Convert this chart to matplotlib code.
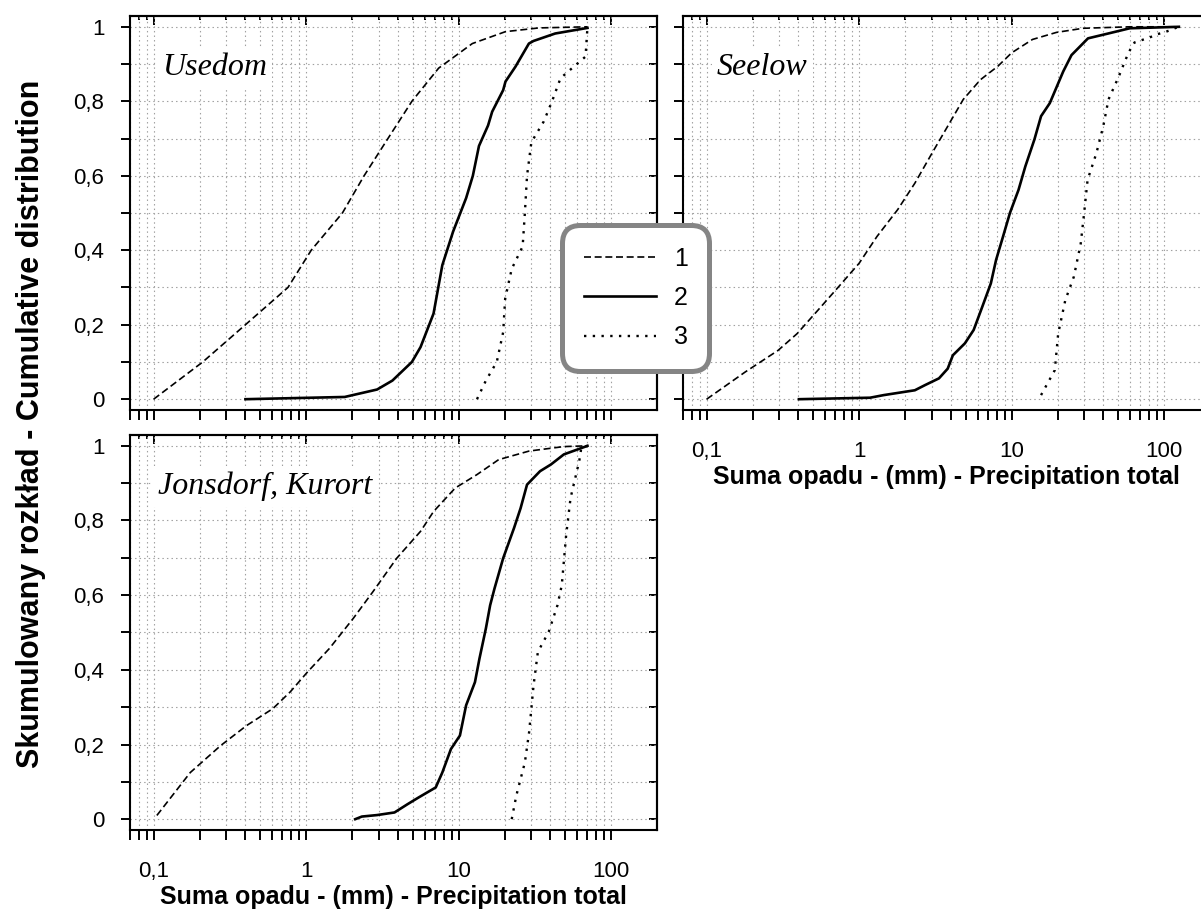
import matplotlib
matplotlib.use("Agg")
import matplotlib.pyplot as plt
from matplotlib.ticker import FixedLocator, NullFormatter

# ---- data: cumulative distribution of precipitation totals (mm) ----
series_labels = ["1", "2", "3"]
stations = ["Usedom", "Seelow", "Jonsdorf, Kurort"]

# Usedom
usedom_1_x = [0.1, 0.21, 0.40, 0.76, 1.08, 1.73, 2.4, 3.44, 4.94, 7.4, 12.3, 20.3, 33.6, 70]
usedom_1_y = [0.0, 0.1, 0.2, 0.3, 0.4, 0.5, 0.6, 0.7, 0.8, 0.889, 0.955, 0.987, 0.997, 1.0]
usedom_2_x = [0.4, 1.79, 2.92, 3.68, 4.94, 5.63, 6.85, 7.82, 9.2, 11.2, 12.4, 13.6, 15.6,
              16.6, 19.6, 20.3, 23.6, 28.9, 31.0, 43, 70]
usedom_2_y = [0.0, 0.006, 0.026, 0.05, 0.1, 0.14, 0.23, 0.36, 0.45, 0.54, 0.6, 0.68, 0.735,
              0.772, 0.83, 0.853, 0.893, 0.955, 0.962, 0.982, 0.997]
usedom_3_x = [13.2, 15.1, 17.8, 19.6, 20.2, 22.3, 26.3, 27.2, 28.1, 30, 36.2, 41, 46.6, 55.5, 68, 70]
usedom_3_y = [0.0, 0.05, 0.1, 0.18, 0.27, 0.35, 0.41, 0.5, 0.6, 0.69, 0.746, 0.8, 0.862, 0.889, 0.92, 1.0]

# Seelow
seelow_1_x = [0.1, 0.179, 0.294, 0.392, 0.537, 0.734, 1.0, 1.31, 1.79, 2.32, 3.01, 3.81, 4.82,
              6.25, 8.12, 10, 13.7, 19.7, 29.4, 59.5, 125]
seelow_1_y = [0.0, 0.073, 0.131, 0.176, 0.239, 0.302, 0.365, 0.437, 0.509, 0.58, 0.661, 0.733,
              0.805, 0.858, 0.894, 0.93, 0.966, 0.985, 0.996, 1.0, 1.0]
seelow_2_x = [0.403, 1.18, 1.45, 2.32, 2.71, 3.34, 3.81, 4.12, 4.94, 5.64, 6.42, 7.31, 7.91,
              8.79, 9.75, 11.1, 12.3, 14.1, 15.6, 17.8, 21.8, 24.7, 31.7, 43, 59.5, 125]
seelow_2_y = [0.0, 0.004, 0.011, 0.024, 0.038, 0.056, 0.082, 0.118, 0.15, 0.186, 0.248, 0.311,
              0.374, 0.437, 0.5, 0.562, 0.625, 0.697, 0.76, 0.795, 0.88, 0.924, 0.969, 0.982,
              0.996, 1.0]
seelow_3_x = [15.6, 19.2, 20.2, 22.5, 25.6, 28.4, 29.9, 31.5, 36, 39.9, 43.2, 50.5, 54.7, 57,
              60, 64, 71, 80, 90, 100, 110, 124]
seelow_3_y = [0.011, 0.078, 0.176, 0.266, 0.329, 0.418, 0.5, 0.589, 0.661, 0.733, 0.805, 0.867,
              0.902, 0.92, 0.939, 0.958, 0.964, 0.971, 0.98, 0.985, 0.991, 1.0]

# Jonsdorf, Kurort
jonsdorf_1_x = [0.105, 0.174, 0.275, 0.408, 0.605, 0.787, 1.02, 1.42, 2.04, 2.74, 3.93, 5.63,
                6.85, 9.5, 13.2, 18.3, 29, 49, 70]
jonsdorf_1_y = [0.01, 0.125, 0.197, 0.251, 0.296, 0.341, 0.394, 0.457, 0.538, 0.609, 0.699,
                0.771, 0.824, 0.887, 0.923, 0.963, 0.986, 0.998, 1.0]
jonsdorf_2_x = [2.1, 2.32, 2.92, 3.8, 4.62, 5.46, 7.08, 7.82, 8.91, 10.2, 11.2, 12.8, 13.7,
                15.1, 16.1, 17.2, 19.6, 23.1, 25.5, 28.1, 34.2, 40.3, 49, 60, 70]
jonsdorf_2_y = [0.0, 0.007, 0.011, 0.018, 0.04, 0.058, 0.085, 0.125, 0.188, 0.224, 0.305, 0.367,
                0.43, 0.511, 0.573, 0.618, 0.699, 0.78, 0.833, 0.896, 0.932, 0.95, 0.977, 0.99, 1.0]
jonsdorf_3_x = [22.3, 23.9, 27.2, 29, 31, 33.1, 39, 44.5, 47.5, 50.7, 54.2, 61.8, 63.8, 70]
jonsdorf_3_y = [0.0, 0.063, 0.152, 0.233, 0.358, 0.448, 0.502, 0.573, 0.627, 0.76, 0.86, 0.959,
                0.995, 1.0]

x_major = [0.1, 1, 10, 100]
x_major_labels = ["0,1", "1", "10", "100"]
x_minor = [m * d for d in (0.01, 0.1, 1, 10) for m in range(2, 10) if 0.065 < m * d < 100]
y_major = [0, 0.2, 0.4, 0.6, 0.8, 1.0]
y_major_labels = ["0", "0,2", "0,4", "0,6", "0,8", "1"]
y_minor = [0.1, 0.3, 0.5, 0.7, 0.9]

xlabel = "Suma opadu - (mm) - Precipitation total"
ylabel = "Skumulowany rozkład - Cumulative distribution"

# ---- styling ----
plt.rcParams["font.family"] = ["Liberation Sans", "DejaVu Sans"]
styles = [
    dict(color="black", lw=1.2, linestyle=(0, (4.2, 2.2))),
    dict(color="black", lw=1.9, linestyle="-"),
    dict(color="black", lw=1.7, linestyle=(0, (1.0, 2.7))),
]
GRID = dict(color="#a0a0a0", linestyle=(0, (1.3, 2.8)), linewidth=0.8)

W, H = 1201, 910
fig = plt.figure(figsize=(W / 100, H / 100), dpi=100)


def box(l, t, r, b):
    return [l / W, 1 - b / H, (r - l) / W, (b - t) / H]


ax_u = fig.add_axes(box(130, 16, 657, 410))
ax_s = fig.add_axes(box(683, 16, 1210, 410))
ax_j = fig.add_axes(box(130, 435, 657, 830))

panels = [
    (ax_u, stations[0], [(usedom_1_x, usedom_1_y), (usedom_2_x, usedom_2_y), (usedom_3_x, usedom_3_y)],
     True, False, 0.060),
    (ax_s, stations[1], [(seelow_1_x, seelow_1_y), (seelow_2_x, seelow_2_y), (seelow_3_x, seelow_3_y)],
     False, True, 0.0645),
    (ax_j, stations[2], [(jonsdorf_1_x, jonsdorf_1_y), (jonsdorf_2_x, jonsdorf_2_y),
                         (jonsdorf_3_x, jonsdorf_3_y)],
     True, True, 0.054),
]

handles = None
for ax, name, curves, ylabels_on, xlabels_on, tx in panels:
    ax.set_xscale("log")
    ax.set_xlim(0.07, 200)
    ax.set_ylim(-0.029, 1.029)
    ax.set_axisbelow(True)
    hs = []
    for (xs, ys), st in zip(curves, styles):
        (ln,) = ax.plot(xs, ys, **st, zorder=3)
        hs.append(ln)
    if handles is None:
        handles = hs

    ax.xaxis.set_major_locator(FixedLocator(x_major))
    ax.xaxis.set_minor_locator(FixedLocator(x_minor))
    ax.xaxis.set_minor_formatter(NullFormatter())
    ax.yaxis.set_major_locator(FixedLocator(y_major))
    ax.yaxis.set_minor_locator(FixedLocator(y_minor))
    ax.yaxis.set_minor_formatter(NullFormatter())
    if xlabels_on:
        ax.set_xticklabels(x_major_labels)
        ax.set_xlabel(xlabel, fontsize=18, fontweight="bold", labelpad=2)
    else:
        ax.xaxis.set_major_formatter(NullFormatter())
    if ylabels_on:
        ax.set_yticklabels(y_major_labels)
    else:
        ax.yaxis.set_major_formatter(NullFormatter())

    ax.tick_params(axis="x", which="both", direction="out", length=7.2, width=1.4,
                   top=False, labelsize=16, pad=15)
    ax.tick_params(axis="y", which="both", direction="out", length=6.5, width=1.4,
                   right=False, labelsize=16, pad=12)
    ax.grid(True, which="both", axis="both", **GRID)
    for sp in ax.spines.values():
        sp.set_linewidth(1.5)

    top = ax.secondary_xaxis("top")
    top.xaxis.set_major_locator(FixedLocator(x_major))
    top.xaxis.set_minor_locator(FixedLocator(x_minor))
    top.xaxis.set_major_formatter(NullFormatter())
    top.xaxis.set_minor_formatter(NullFormatter())
    top.tick_params(which="major", direction="in", length=6.5, width=1.4)
    top.tick_params(which="minor", direction="in", length=3.0, width=1.4)
    top.spines["top"].set_linewidth(1.5)

    right = ax.secondary_yaxis("right")
    right.yaxis.set_major_locator(FixedLocator(y_major))
    right.yaxis.set_minor_locator(FixedLocator(y_minor))
    right.yaxis.set_major_formatter(NullFormatter())
    right.yaxis.set_minor_formatter(NullFormatter())
    right.tick_params(which="both", direction="in", length=6, width=1.4)
    right.spines["right"].set_linewidth(1.5)

    ax.text(tx, 0.85, name, transform=ax.transAxes, fontsize=23, style="italic",
            family=["Liberation Serif", "DejaVu Serif"], ha="left", va="baseline", zorder=4,
            bbox=dict(facecolor="white", edgecolor="none", pad=4))

fig.text(0.026, 1 - 424 / H, ylabel, rotation=90, ha="center", va="center",
         fontsize=22, fontweight="bold")

leg = fig.legend(handles, series_labels, loc="center",
                 bbox_to_anchor=(635.7 / W, 1 - 298 / H), fontsize=18,
                 handlelength=2.9, handletextpad=0.7, labelspacing=0.62,
                 borderpad=0.85, frameon=True, fancybox=True)
frame = leg.get_frame()
frame.set_boxstyle("round,pad=0,rounding_size=0.72")
frame.set_edgecolor("#858585")
frame.set_linewidth(3.6)
frame.set_facecolor("white")
frame.set_alpha(1)

fig.savefig("out.png", dpi=100)
